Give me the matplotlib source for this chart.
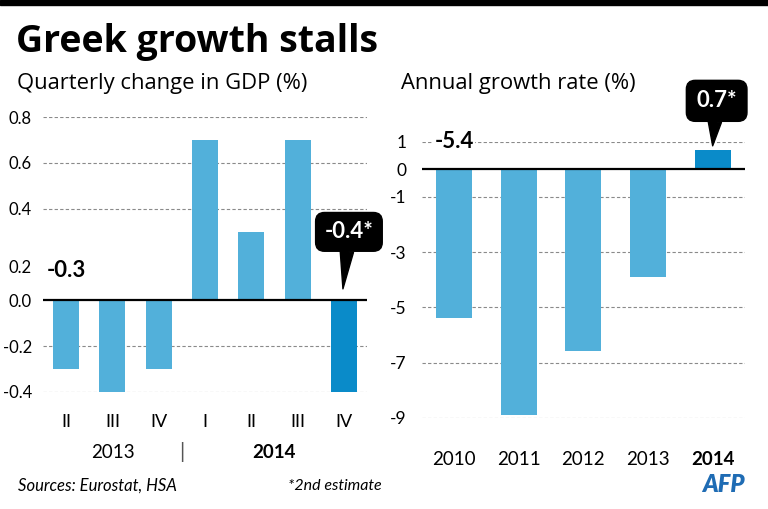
import matplotlib
matplotlib.use("Agg")
import matplotlib.pyplot as plt
from matplotlib.transforms import blended_transform_factory

plt.rcParams['font.family'] = ['Lato', 'DejaVu Sans']
head_font = ['Open Sans', 'DejaVu Sans']

# quarterly change in GDP (%)
quarters = ["II", "III", "IV", "I", "II", "III", "IV"]
quarter_years = ["2013", "2013", "2013", "2014", "2014", "2014", "2014"]
quarterly_change = [-0.3, -0.4, -0.3, 0.7, 0.3, 0.7, -0.4]
q_ticks = [-0.4, -0.2, 0.0, 0.4, 0.6, 0.8]

# annual growth rate (%)
years = ["2010", "2011", "2012", "2013", "2014"]
annual_growth = [-5.4, -8.9, -6.6, -3.9, 0.7]
a_ticks = [1, 0, -1, -3, -5, -7, -9]

light_blue = "#52b0da"
dark_blue = "#0a8bc9"
grid_col = "#8a8a8a"

fig = plt.figure(figsize=(7.68, 5.09), dpi=100)

# black band on top
fig.patches.append(plt.Rectangle((0, 1 - 5 / 509), 1, 5 / 509, transform=fig.transFigure,
                                 color="black", zorder=5))

fig.text(16 / 768, 1 - 42 / 509, "Greek growth stalls", fontsize=27, fontweight="bold",
         va="center", ha="left", family=head_font)
fig.text(17 / 768, 1 - 84 / 509, "Quarterly change in GDP (%)", fontsize=15.8,
         va="center", ha="left", family=head_font)
fig.text(401 / 768, 1 - 84 / 509, "Annual growth rate (%)", fontsize=15.8,
         va="center", ha="left", family=head_font)

# ---------------- left chart ----------------
ax1 = fig.add_axes([43 / 768, 1 - 392 / 509, 324 / 768, 275 / 509])
x1 = list(range(len(quarterly_change)))
cols1 = [light_blue] * (len(x1) - 1) + [dark_blue]
ax1.bar(x1, quarterly_change, width=0.56, color=cols1, zorder=2)
for t in q_ticks:
    if t == 0:
        ax1.axhline(0, color="black", lw=1.6, zorder=3)
    else:
        ax1.axhline(t, color=grid_col, lw=0.8, ls=(0, (3, 2)), zorder=1)
ax1.set_xlim(-0.5, 6.5)
ax1.set_ylim(-0.4, 0.8)
ax1.set_yticks(q_ticks)
ax1.set_yticklabels(["%.1f" % t for t in q_ticks])
ax1.set_xticks(x1)
ax1.set_xticklabels(quarters)
ax1.tick_params(axis="y", length=0, pad=8, labelsize=12)
ax1.tick_params(axis="x", length=0, pad=16, labelsize=13)
for s in ax1.spines.values():
    s.set_visible(False)
# 0.2 label sits below where its gridline would be (room for the -0.3 label)
ax1.text(-11 / 324, 0.14, "0.2", transform=blended_transform_factory(ax1.transAxes, ax1.transData),
         ha="right", va="center", fontsize=12)
ax1.text(0, 0.13, "-0.3", fontsize=16, fontweight="bold", ha="center", va="center")

# year labels under quarters
trans1 = blended_transform_factory(ax1.transData, fig.transFigure)
y_year = 1 - 452 / 509
for yr, bold in [("2013", False), ("2014", True)]:
    idx = [i for i, q in enumerate(quarter_years) if q == yr]
    ax1.text(sum(idx) / len(idx), y_year, yr, transform=trans1, ha="center", va="center",
             fontsize=13.5, fontweight="bold" if bold else "normal")
ax1.text(2.5, y_year, "|", transform=trans1, ha="center", va="center", fontsize=15,
         color="#555555")

ax1.annotate("-0.4*", xy=(5.98, 0.05), xytext=(6, 57), textcoords="offset pixels",
             ha="center", va="center", fontsize=16, fontweight="bold", color="white",
             bbox=dict(boxstyle="round,pad=0.4,rounding_size=0.4", fc="black", ec="black"),
             arrowprops=dict(arrowstyle="wedge,tail_width=0.6", fc="black", ec="black",
                             shrinkA=0, shrinkB=0),
             zorder=6, annotation_clip=False)

# ---------------- right chart ----------------
ax2 = fig.add_axes([421.7 / 768, 1 - 417.7 / 509, 323.3 / 768, 276 / 509])
x2 = list(range(len(annual_growth)))
cols2 = [light_blue] * (len(x2) - 1) + [dark_blue]
ax2.bar(x2, annual_growth, width=0.556, color=cols2, zorder=2)
for t in a_ticks:
    if t == 0:
        ax2.axhline(0, color="black", lw=1.6, zorder=3)
    else:
        ax2.axhline(t, color=grid_col, lw=0.8, ls=(0, (3, 2)), zorder=1)
ax2.set_xlim(-0.5, 4.5)
ax2.set_ylim(-9, 1)
ax2.set_yticks(a_ticks)
ax2.set_yticklabels([str(t) for t in a_ticks])
ax2.set_xticks(x2)
ax2.set_xticklabels(years)
for lab in ax2.get_xticklabels():
    if lab.get_text() == "2014":
        lab.set_fontweight("bold")
ax2.tick_params(axis="y", length=0, pad=11, labelsize=12.5)
ax2.tick_params(axis="x", length=0, pad=24, labelsize=13.5)
for s in ax2.spines.values():
    s.set_visible(False)
ax2.text(0, 1.0, "-5.4", fontsize=16, fontweight="bold", ha="center", va="center",
         bbox=dict(fc="white", ec="none", pad=1), zorder=4)

ax2.annotate("0.7*", xy=(4, 0.85), xytext=(4, 45), textcoords="offset pixels",
             ha="center", va="center", fontsize=16, fontweight="bold", color="white",
             bbox=dict(boxstyle="round,pad=0.45,rounding_size=0.4", fc="black", ec="black"),
             arrowprops=dict(arrowstyle="wedge,tail_width=0.6", fc="black", ec="black",
                             shrinkA=0, shrinkB=0),
             zorder=6, annotation_clip=False)

# footer
fig.text(18 / 768, 1 - 486 / 509, "Sources: Eurostat, HSA", fontsize=12, style="italic",
         va="center", ha="left")
fig.text(288 / 768, 1 - 486 / 509, "*2nd estimate", fontsize=11.5, style="italic",
         va="center", ha="left")
fig.text(745 / 768, 1 - 484 / 509, "AFP", fontsize=17, style="italic", fontweight="heavy",
         color="#1f6cb4", va="center", ha="right")

fig.savefig("out.png", dpi=100)
